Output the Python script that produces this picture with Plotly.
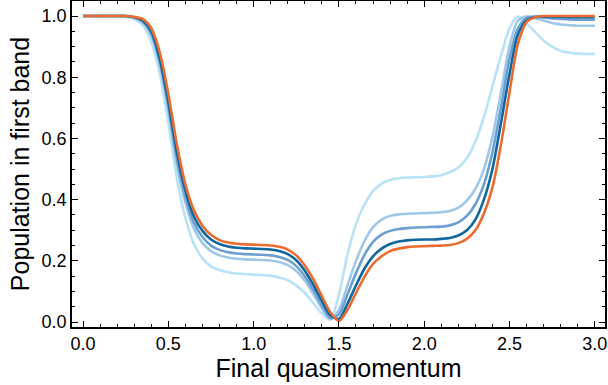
import plotly.graph_objects as go

q = [round(0.05 * i, 2) for i in range(61)]

pop_l1 = [1.0, 1.0, 1.0, 1.0, 1.0, 0.998, 0.99, 0.97, 0.915, 0.81,
          0.65, 0.47, 0.34, 0.255, 0.208, 0.182, 0.17, 0.163, 0.159, 0.157,
          0.155, 0.154, 0.151, 0.146, 0.137, 0.12, 0.095, 0.062, 0.028, 0.008,
          0.09, 0.22, 0.32, 0.385, 0.428, 0.452, 0.464, 0.47, 0.472, 0.473,
          0.474, 0.476, 0.48, 0.49, 0.505, 0.535, 0.59, 0.67, 0.77, 0.87,
          0.96, 0.998, 0.975, 0.948, 0.92, 0.9, 0.886, 0.88, 0.877, 0.876, 0.876]

pop_l2 = [1.0, 1.0, 1.0, 1.0, 1.0, 1.0, 0.994, 0.978, 0.935, 0.84,
          0.69, 0.515, 0.39, 0.305, 0.258, 0.232, 0.218, 0.211, 0.207, 0.205,
          0.204, 0.203, 0.201, 0.196, 0.186, 0.167, 0.135, 0.092, 0.045, 0.01,
          0.04, 0.12, 0.2, 0.265, 0.31, 0.335, 0.347, 0.352, 0.354, 0.355,
          0.356, 0.357, 0.359, 0.363, 0.374, 0.397, 0.435, 0.5, 0.605, 0.75,
          0.9, 0.985, 0.998, 0.993, 0.985, 0.977, 0.972, 0.97, 0.968, 0.968, 0.968]

pop_l3 = [1.0, 1.0, 1.0, 1.0, 1.0, 1.0, 0.995, 0.982, 0.943, 0.85,
          0.705, 0.535, 0.41, 0.325, 0.278, 0.25, 0.236, 0.228, 0.224, 0.222,
          0.221, 0.22, 0.218, 0.213, 0.203, 0.183, 0.15, 0.105, 0.055, 0.013,
          0.025, 0.09, 0.16, 0.22, 0.262, 0.286, 0.298, 0.304, 0.307, 0.309,
          0.31, 0.311, 0.312, 0.316, 0.326, 0.347, 0.385, 0.45, 0.555, 0.7,
          0.86, 0.96, 0.993, 0.998, 0.995, 0.992, 0.99, 0.989, 0.988, 0.988, 0.988]

pop_l4 = [1.0, 1.0, 1.0, 1.0, 1.0, 1.0, 0.996, 0.985, 0.95, 0.86,
          0.72, 0.555, 0.43, 0.345, 0.298, 0.27, 0.255, 0.247, 0.243, 0.241,
          0.24, 0.239, 0.237, 0.232, 0.222, 0.202, 0.168, 0.122, 0.07, 0.022,
          0.01, 0.06, 0.12, 0.175, 0.215, 0.24, 0.255, 0.263, 0.267, 0.269,
          0.27, 0.27, 0.272, 0.275, 0.283, 0.3, 0.335, 0.4, 0.5, 0.65,
          0.81, 0.94, 0.985, 0.997, 0.998, 0.997, 0.997, 0.996, 0.996, 0.996, 0.996]

pop_or = [1.0, 1.0, 1.0, 1.0, 1.0, 1.0, 0.997, 0.99, 0.96, 0.88,
          0.745, 0.58, 0.45, 0.365, 0.315, 0.285, 0.268, 0.26, 0.256, 0.254,
          0.253, 0.252, 0.25, 0.246, 0.237, 0.218, 0.185, 0.14, 0.085, 0.032,
          0.003, 0.04, 0.095, 0.148, 0.19, 0.215, 0.232, 0.24, 0.245, 0.247,
          0.248, 0.249, 0.25, 0.252, 0.258, 0.272, 0.3, 0.355, 0.44, 0.58,
          0.75, 0.91, 0.98, 0.996, 1.0, 1.0, 1.0, 1.0, 1.0, 1.0, 1.0]

series = [pop_l1, pop_l2, pop_l3, pop_l4, pop_or]
colors = ["#b8e2f6", "#9fc8e8", "#6b9fd0", "#0f679e", "#ec6b30"]

fig = go.Figure()
for ys, c in zip(series, colors):
    fig.add_trace(go.Scatter(x=q, y=ys, mode="lines",
                             line=dict(color=c, width=2.6, shape="spline", smoothing=0.8),
                             showlegend=False, hoverinfo="skip"))

axis_common = dict(showline=True, linecolor="black", linewidth=1.5, mirror="ticks",
                   ticks="inside", ticklen=6, tickwidth=1.2, tickcolor="black",
                   showgrid=False, zeroline=False, automargin=False,
                   tickfont=dict(size=18, color="black"))

fig.update_xaxes(range=[-0.065, 3.06], dtick=0.5, tick0=0, tickformat=".1f",
                 minor=dict(dtick=0.1, ticks="inside", ticklen=3, tickcolor="black", tickwidth=1),
                 title=dict(text="Final quasimomentum", font=dict(size=25, color="black"), standoff=2),
                 **axis_common)
fig.update_yaxes(range=[-0.016, 1.049], dtick=0.2, tick0=0, tickformat=".1f",
                 minor=dict(dtick=0.05, ticks="inside", ticklen=3, tickcolor="black", tickwidth=1),
                 title=dict(text="Population in first band", font=dict(size=25, color="black"), standoff=5),
                 **axis_common)

fig.update_layout(width=608, height=385, margin=dict(l=72, r=3, t=1, b=58),
                  paper_bgcolor="white", plot_bgcolor="white",
                  font=dict(family="Liberation Sans, Arial, sans-serif", color="black"))

fig.write_html("out.html", config={"displayModeBar": False},
               post_script="document.body.style.margin='0';document.body.style.padding='0';")
